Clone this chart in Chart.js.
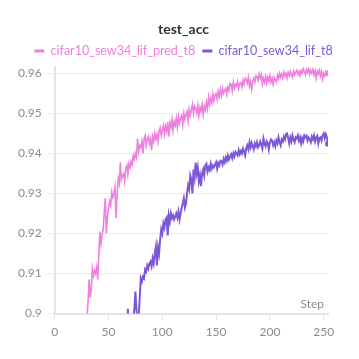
<!DOCTYPE html>
<html>
<head>
<meta charset="utf-8">
<script src="https://cdn.jsdelivr.net/npm/chart.js@4.4.1/dist/chart.umd.min.js"></script>
<style>
  html, body { margin: 0; padding: 0; background: #fff; }
  #wrap { width: 359px; height: 359px; }
</style>
</head>
<body>
<div id="wrap"><canvas id="accChart"></canvas></div>
<script>
const chartTitle = 'test_acc';
const seriesNames = ['cifar10_sew34_lif_pred_t8', 'cifar10_sew34_lif_t8'];
const seriesColors = ['#ee80de', '#7c58d6'];
const xTicks = [0, 50, 100, 150, 200, 250];
const yTicks = [0.9, 0.91, 0.92, 0.93, 0.94, 0.95, 0.96];

// step index 0..254
const steps = Array.from({ length: 255 }, (_, i) => i);

// pred run (pink) - values below 0.9 fall outside the view
const predAcc = [
  0.42, 0.55, 0.61, 0.66, 0.69, 0.72, 0.74, 0.76, 0.77, 0.79,
  0.80, 0.81, 0.82, 0.83, 0.84, 0.845, 0.85, 0.855, 0.86, 0.865,
  0.868, 0.872, 0.875, 0.878, 0.881, 0.884, 0.887, 0.889, 0.892, 0.895,
  0.8990, 0.9030, 0.9085, 0.9040, 0.9060, 0.9112, 0.9095, 0.9108, 0.9100, 0.9115,
  0.9085, 0.9150, 0.9205, 0.9175, 0.9195, 0.9210, 0.9250, 0.9288, 0.9200, 0.9240,
  0.9263, 0.9280, 0.9270, 0.9303, 0.9290, 0.9300, 0.9316, 0.9238, 0.9300, 0.9337,
  0.9325, 0.9378, 0.9335, 0.9345, 0.9350, 0.9330, 0.9362, 0.9370, 0.9348, 0.9375,
  0.9365, 0.9380, 0.9372, 0.9395, 0.9385, 0.9400, 0.9390, 0.9437, 0.9405, 0.9420,
  0.9415, 0.9430, 0.9400, 0.9435, 0.9444, 0.9420, 0.9438, 0.9443, 0.9425, 0.9436,
  0.9408, 0.9442, 0.9430, 0.9450, 0.9436, 0.9448, 0.9430, 0.9455, 0.9464, 0.9445,
  0.9458, 0.9470, 0.9448, 0.9468, 0.9456, 0.9478, 0.9442, 0.9476, 0.9465, 0.9485,
  0.9458, 0.9480, 0.9470, 0.9488, 0.9465, 0.9492, 0.9475, 0.9488, 0.9495, 0.9472,
  0.9500, 0.9485, 0.9497, 0.9505, 0.9482, 0.9510, 0.9495, 0.9508, 0.9523, 0.9500,
  0.9518, 0.9513, 0.9500, 0.9520, 0.9494, 0.9515, 0.9505, 0.9522, 0.9496, 0.9518,
  0.9508, 0.9528, 0.9512, 0.9540, 0.9522, 0.9538, 0.9526, 0.9548, 0.9532, 0.9545,
  0.9550, 0.9535, 0.9555, 0.9542, 0.9560, 0.9545, 0.9562, 0.9550, 0.9558, 0.9563,
  0.9547, 0.9566, 0.9557, 0.9575, 0.9572, 0.9556, 0.9578, 0.9562, 0.9572, 0.9568,
  0.9580, 0.9562, 0.9575, 0.9577, 0.9565, 0.9582, 0.9572, 0.9588, 0.9585, 0.9575,
  0.9590, 0.9568, 0.9580, 0.9560, 0.9578, 0.9588, 0.9578, 0.9594, 0.9592, 0.9582,
  0.9598, 0.9588, 0.9597, 0.9573, 0.9588, 0.9578, 0.9592, 0.9576, 0.9590, 0.9581,
  0.9595, 0.9578, 0.9588, 0.9573, 0.9590, 0.9583, 0.9578, 0.9595, 0.9586, 0.9600,
  0.9590, 0.9598, 0.9588, 0.9603, 0.9593, 0.9600, 0.9588, 0.9602, 0.9594, 0.9605,
  0.9596, 0.9590, 0.9606, 0.9596, 0.9603, 0.9608, 0.9598, 0.9605, 0.9594, 0.9607,
  0.9601, 0.9612, 0.9603, 0.9596, 0.9610, 0.9602, 0.9612, 0.9598, 0.9608, 0.9601,
  0.9610, 0.9596, 0.9606, 0.9588, 0.9605, 0.9598, 0.9608, 0.9594, 0.9605, 0.9586,
  0.9600, 0.9593, 0.9603, 0.9596, 0.9600
];

// baseline run (purple)
const lifAcc = [
  0.30, 0.40, 0.46, 0.51, 0.55, 0.58, 0.61, 0.63, 0.65, 0.67,
  0.69, 0.70, 0.71, 0.72, 0.735, 0.745, 0.755, 0.765, 0.77, 0.778,
  0.785, 0.79, 0.795, 0.80, 0.805, 0.81, 0.815, 0.82, 0.823, 0.827,
  0.83, 0.833, 0.836, 0.84, 0.842, 0.845, 0.848, 0.85, 0.853, 0.855,
  0.857, 0.86, 0.862, 0.864, 0.866, 0.868, 0.87, 0.872, 0.874, 0.875,
  0.877, 0.879, 0.88, 0.882, 0.883, 0.885, 0.886, 0.887, 0.889, 0.89,
  0.891, 0.892, 0.893, 0.894, 0.895, 0.896, 0.897, 0.894,
  0.9012, 0.8960, 0.8940, 0.8975, 0.8960, 0.8990, 0.9010, 0.9055, 0.9010, 0.8970,
  0.8990, 0.9040, 0.9088, 0.9080, 0.9092, 0.9088, 0.9110, 0.9105, 0.9120, 0.9112,
  0.9125, 0.9130, 0.9118, 0.9138, 0.9125, 0.9150, 0.9167, 0.9120, 0.9165, 0.9150,
  0.9185, 0.9210, 0.9200, 0.9225, 0.9215, 0.9235, 0.9240, 0.9195, 0.9245, 0.9230,
  0.9250, 0.9238, 0.9245, 0.9235, 0.9242, 0.9250, 0.9240, 0.9255, 0.9235, 0.9250,
  0.9265, 0.9275, 0.9288, 0.9265, 0.9275, 0.9300, 0.9320, 0.9310, 0.9345, 0.9335,
  0.9300, 0.9360, 0.9340, 0.9377, 0.9350, 0.9365, 0.9330, 0.9345, 0.9318, 0.9350,
  0.9360, 0.9345, 0.9370, 0.9374, 0.9355, 0.9365, 0.9358, 0.9374, 0.9362, 0.9370,
  0.9365, 0.9372, 0.9378, 0.9362, 0.9376, 0.9370, 0.9382, 0.9380, 0.9372, 0.9386,
  0.9378, 0.9390, 0.9382, 0.9395, 0.9385, 0.9392, 0.9398, 0.9388, 0.9400, 0.9392,
  0.9404, 0.9400, 0.9395, 0.9408, 0.9398, 0.9406, 0.9400, 0.9412, 0.9405, 0.9395,
  0.9412, 0.9420, 0.9410, 0.9427, 0.9415, 0.9427, 0.9418, 0.9410, 0.9425, 0.9418,
  0.9428, 0.9415, 0.9420, 0.9430, 0.9422, 0.9412, 0.9437, 0.9425, 0.9418, 0.9430,
  0.9425, 0.9410, 0.9428, 0.9435, 0.9432, 0.9420, 0.9428, 0.9418, 0.9432, 0.9425,
  0.9440, 0.9428, 0.9420, 0.9435, 0.9430, 0.9442, 0.9435, 0.9448, 0.9450, 0.9438,
  0.9425, 0.9440, 0.9430, 0.9445, 0.9435, 0.9428, 0.9440, 0.9437, 0.9445, 0.9432,
  0.9440, 0.9425, 0.9438, 0.9430, 0.9445, 0.9440, 0.9444, 0.9432, 0.9440, 0.9435,
  0.9428, 0.9442, 0.9435, 0.9445, 0.9430, 0.9440, 0.9444, 0.9425, 0.9438, 0.9440,
  0.9432, 0.9445, 0.9450, 0.9438, 0.9448, 0.9440, 0.9424
];

const FONT = 'Lato, "Noto Sans", sans-serif';
const TICK_COLOR = '#8b8b95';

function makeDataset(label, values, color, width) {
  const last = values.length - 1;
  return {
    label,
    data: values.map((v, i) => ({ x: steps[i], y: v })),
    borderColor: color,
    backgroundColor: color,
    borderWidth: width,
    tension: 0,
    fill: false,
    yAxisID: 'y',
    pointRadius: ctx => (ctx.dataIndex === last ? 3 : 0),
    pointHoverRadius: 0,
    pointBorderWidth: 0
  };
}

// "Step" caption sitting inside the plot, bottom right
const stepLabel = {
  id: 'stepLabel',
  afterDraw(chart) {
    const { ctx, chartArea } = chart;
    ctx.save();
    ctx.font = '12px ' + FONT;
    ctx.fillStyle = TICK_COLOR;
    ctx.textAlign = 'right';
    ctx.textBaseline = 'bottom';
    ctx.fillText('Step', chartArea.right - 4, chartArea.bottom - 3);
    ctx.restore();
  }
};

const canvas = document.getElementById('accChart');
new Chart(canvas.getContext('2d'), {
  type: 'line',
  data: {
    datasets: [
      makeDataset(seriesNames[0], predAcc, seriesColors[0], 1.6),
      makeDataset(seriesNames[1], lifAcc, seriesColors[1], 2)
    ]
  },
  options: {
    responsive: true,
    maintainAspectRatio: false,
    animation: false,
    layout: { padding: { left: 12, right: 4, top: 15, bottom: 15 } },
    plugins: {
      title: {
        display: true,
        text: chartTitle,
        color: '#333',
        font: { family: FONT, size: 14, weight: 'bold' },
        padding: { top: 6, bottom: 0 }
      },
      legend: {
        display: true,
        labels: {
          boxWidth: 10,
          boxHeight: 3,
          padding: 7,
          font: { family: FONT, size: 12.5 },
          generateLabels(chart) {
            const items = Chart.defaults.plugins.legend.labels.generateLabels(chart);
            items.forEach((it, i) => { it.fontColor = seriesColors[i]; it.lineWidth = 0; });
            return items;
          }
        }
      },
      tooltip: { enabled: false }
    },
    scales: {
      x: {
        type: 'linear',
        min: 0,
        max: 254,
        afterBuildTicks(scale) { scale.ticks = xTicks.map(v => ({ value: v })); },
        grid: { display: true, drawOnChartArea: false, drawTicks: true, tickLength: 6, color: '#e4e4e4' },
        border: { display: true, color: '#e4e4e4', width: 2 },
        ticks: { color: TICK_COLOR, font: { family: FONT, size: 12 }, padding: 5, maxRotation: 0 }
      },
      y: {
        type: 'linear',
        min: 0.9,
        max: 0.9615,
        afterBuildTicks(scale) { scale.ticks = yTicks.map(v => ({ value: v })); },
        grid: { color: '#ececec', tickLength: 7 },
        border: { display: true, color: '#e4e4e4', width: 2 },
        ticks: {
          color: TICK_COLOR,
          font: { family: FONT, size: 12 },
          padding: 6,
          callback: v => String(+v.toFixed(2))
        }
      },
      // empty right-hand gutter so the plot stops where the reference does
      gutter: {
        type: 'linear',
        position: 'right',
        display: true,
        grid: { display: false },
        border: { display: false },
        ticks: { display: false },
        afterFit(scale) { scale.width = 27; }
      }
    }
  },
  plugins: [stepLabel]
});
</script>
</body>
</html>
